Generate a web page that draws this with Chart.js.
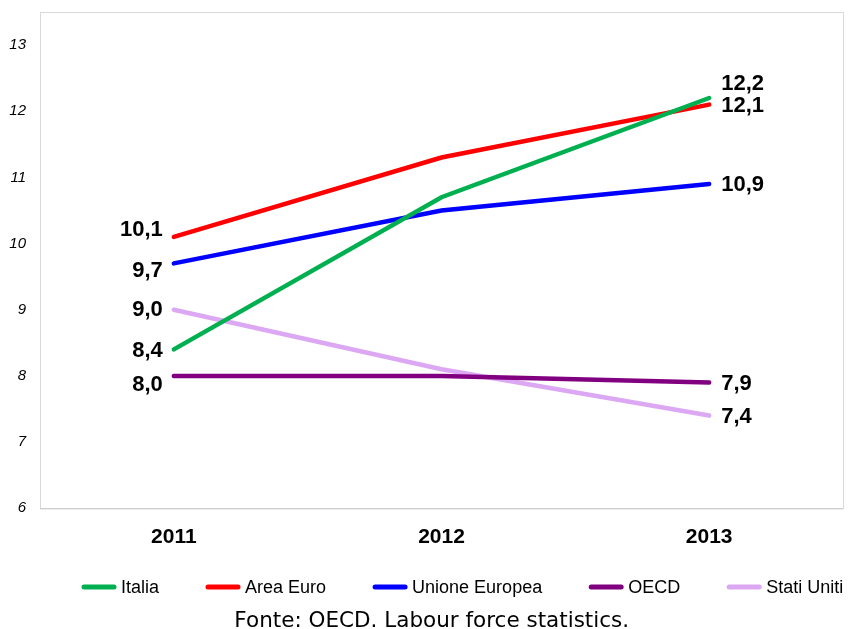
<!DOCTYPE html>
<html>
<head>
<meta charset="utf-8">
<script src="https://cdn.jsdelivr.net/npm/chart.js@4.4.0/dist/chart.umd.min.js"></script>
<style>
  html, body { margin: 0; padding: 0; background: #fff; }
  canvas { display: block; }
</style>
</head>
<body>
<canvas id="charDisoccupazione" width="850" height="629"></canvas>
<script>
/* Dati */
const years = ['2011', '2012', '2013'];
const italia = [8.4, 10.7, 12.2];
const areaEuro = [10.1, 11.3, 12.1];
const unioneEuropea = [9.7, 10.5, 10.9];
const oecd = [8.0, 8.0, 7.9];
const statiUniti = [9.0, 8.1, 7.4];
const yTicks = [6, 7, 8, 9, 10, 11, 12, 13];

// spostamento verticale delle etichette (prima / ultima colonna)
const labelShiftFirst = [2, -7, 8, 9, 0];
const labelShiftLast = [-14, 1, 1, 1, 1];

const FONT = '"Liberation Sans", Arial, sans-serif';

/* cornice dell'area del grafico */
const frame = {
    id: 'frame',
    beforeDatasetsDraw(chart) {
        const a = chart.chartArea;
        const ctx = chart.ctx;
        ctx.save();
        ctx.lineWidth = 1;
        ctx.strokeStyle = '#d9d9d9';
        ctx.strokeRect(a.left + 0.5, a.top + 0.5, a.right - a.left, a.bottom - a.top);
        ctx.strokeStyle = '#c8c8c8';
        ctx.beginPath();
        ctx.moveTo(a.left, a.bottom + 0.5);
        ctx.lineTo(a.right, a.bottom + 0.5);
        ctx.stroke();
        ctx.restore();
    }
};

/* etichette valori a inizio e fine linea */
const endLabels = {
    id: 'endLabels',
    afterDatasetsDraw(chart) {
        const ctx = chart.ctx;
        ctx.save();
        ctx.font = 'bold 22px ' + FONT;
        ctx.fillStyle = '#000';
        ctx.textBaseline = 'middle';
        chart.data.datasets.forEach((ds, i) => {
            const pts = chart.getDatasetMeta(i).data;
            const first = pts[0], last = pts[pts.length - 1];
            const fmt = v => v.toFixed(1).replace('.', ',');
            ctx.textAlign = 'right';
            ctx.fillText(fmt(ds.data[0]), first.x - 11, first.y + labelShiftFirst[i]);
            ctx.textAlign = 'left';
            ctx.fillText(fmt(ds.data[ds.data.length - 1]), last.x + 12, last.y + labelShiftLast[i]);
        });
        ctx.restore();
    }
};

/* legenda in basso */
const bottomLegend = {
    id: 'bottomLegend',
    afterDraw(chart) {
        const ctx = chart.ctx;
        let x = 82;
        const y = 587;
        ctx.save();
        ctx.font = '18px ' + FONT;
        ctx.textBaseline = 'middle';
        ctx.textAlign = 'left';
        chart.data.datasets.forEach((ds) => {
            ctx.strokeStyle = ds.borderColor;
            ctx.lineWidth = 5;
            ctx.lineCap = 'round';
            ctx.beginPath();
            ctx.moveTo(x + 2, y);
            ctx.lineTo(x + 32, y);
            ctx.stroke();
            ctx.fillStyle = '#000';
            ctx.fillText(ds.label, x + 39, y + 1);
            x += 39 + ctx.measureText(ds.label).width + 47;
        });
        ctx.restore();
    }
};

const mkLine = (label, data, color) => ({
    label: label,
    data: data,
    borderColor: color,
    backgroundColor: color,
    borderWidth: 4.5,
    borderCapStyle: 'round',
    pointRadius: 0,
    tension: 0,
});

const ctx = document.getElementById('charDisoccupazione');
const chart = new Chart(ctx, {
    type: 'line',
    data: {
        labels: years,
        datasets: [
            mkLine('Italia', italia, '#00b050'),
            mkLine('Area Euro', areaEuro, '#ff0000'),
            mkLine('Unione Europea', unioneEuropea, '#0000ff'),
            mkLine('OECD', oecd, '#800080'),
            mkLine('Stati Uniti', statiUniti, '#dca8f4'),
        ],
    },
    options: {
        responsive: false,
        animation: false,
        layout: { padding: { top: 0, right: 7, left: 0, bottom: 0 } },
        scales: {
            x: {
                offset: true,
                afterFit: (scale) => { scale.height = 100; },
                grid: { display: false, drawTicks: false },
                border: { display: false },
                ticks: {
                    padding: 16,
                    color: '#000',
                    font: { family: FONT, size: 21, weight: 'bold' },
                },
            },
            y: {
                min: 6,
                max: 13.5,
                afterBuildTicks: (scale) => {
                    scale.ticks = yTicks.map(v => ({ value: v }));
                },
                afterFit: (scale) => {
                    scale.width = 40;
                    scale.paddingTop = 12;
                    scale.paddingBottom = 10;
                },
                grid: { display: false, drawTicks: false },
                border: { display: false },
                ticks: {
                    padding: 14,
                    color: '#000',
                    font: { family: FONT, size: 15, style: 'italic' },
                },
            },
        },
        plugins: {
            legend: { display: false },
            title: {
                display: true,
                position: 'bottom',
                text: '   Fonte: OECD. Labour force statistics.',
                color: '#000',
                font: { family: '"DejaVu Sans", Verdana, sans-serif', size: 21.5, weight: 'normal' },
                padding: { top: 0, bottom: -5 },
            },
            tooltip: { enabled: false },
        },
    },
    plugins: [frame, endLabels, bottomLegend],
});
</script>
</body>
</html>
